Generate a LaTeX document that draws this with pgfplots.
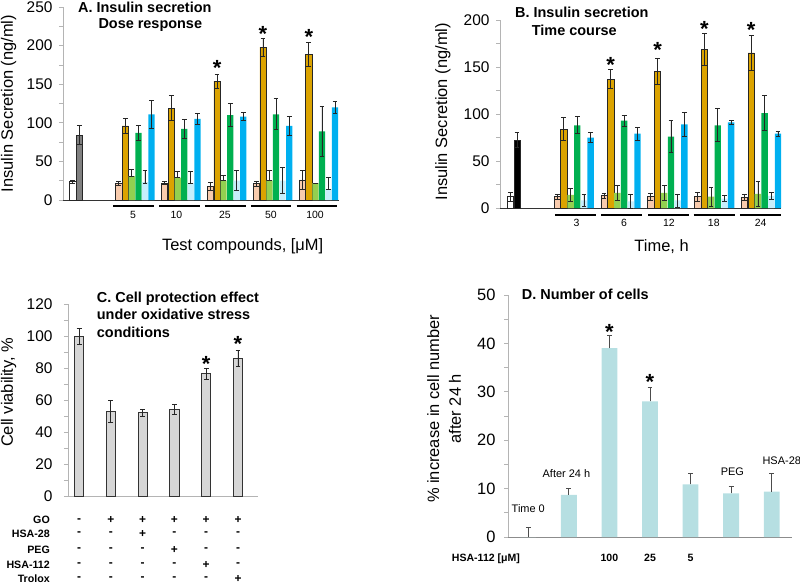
\documentclass[border=0pt]{standalone}
\usepackage{fontspec}
\setmainfont{Liberation Sans}
\usepackage{pgfplots}
\usepackage{pgfplotstable}
\pgfplotsset{compat=1.18}

\definecolor{cpeach}{RGB}{248,203,173}
\definecolor{cgold}{RGB}{219,163,0}
\definecolor{clgreen}{RGB}{146,208,80}
\definecolor{cgreen}{RGB}{0,176,80}
\definecolor{clblue}{RGB}{198,238,251}
\definecolor{cblue}{RGB}{0,176,240}
\definecolor{cgrey}{RGB}{128,128,128}
\definecolor{cCbar}{RGB}{214,214,214}
\definecolor{cDbar}{RGB}{182,223,226}
\definecolor{axgrey}{RGB}{180,180,180}

% ---------- Panel A data ----------
\pgfplotstableread{
x y ep em
0 24 2 2
}\Awhite
\pgfplotstableread{
x y ep em
1 84 12 12
}\Agrey
\pgfplotstableread{
x y ep em
7 21.6 2.5 2.5
14 22 2 2
21 18 5 5
28 21 3 3
35 26 12 12
}\Apeach
\pgfplotstableread{
x y ep em
8 96 9.5 9.5
15 119 16 16
22 154 9 9
29 198 11.5 11.5
36 189 15.5 15.5
}\Agold
\pgfplotstableread{
x y ep em
9 31 8 0
16 29 8 0
23 25 7 0
30 25 13 0
37 22 0 0
}\Algreen
\pgfplotstableread{
x y ep em
10 87 9.5 9.5
17 92 12 12
24 110 15 15
31 111 20 20
38 89 32 32
}\Agreen
\pgfplotstableread{
x y ep em
11 23 15 1
18 22 15 0
25 25 13 12
32 25 17 17
39 14 15 0
}\Alblue
\pgfplotstableread{
x y ep em
12 111 18.5 18.5
19 105 7 7
26 108 5.4 5.4
33 96 12.5 12.5
40 120 8 8
}\Ablue

% ---------- Panel B data ----------
\pgfplotstableread{
x y ep em
0 12 5 5
}\Bwhite
\pgfplotstableread{
x y ep em
1 72 8 8
}\Bblack
\pgfplotstableread{
x y ep em
7 12 3 3
14 13 3 3
21 12 4 4
28 12 5 5
35 11 3 3
}\Bpeach
\pgfplotstableread{
x y ep em
8 84 12 12
15 137 10 10
22 145 14 14
29 169 17 17
36 165 19 19
}\Bgold
\pgfplotstableread{
x y ep em
9 14 7 7
16 16 8 8
23 16 8 8
30 12 10 10
37 15 13 13
}\Blgreen
\pgfplotstableread{
x y ep em
10 88 9 9
17 93 6 6
24 76 17 17
31 88 17.5 17.5
38 101 18.5 18.5
}\Bgreen
\pgfplotstableread{
x y ep em
11 8 6 6
18 7 8 7
25 8 7 7
32 10 3 3
39 13 4 4
}\Blblue
\pgfplotstableread{
x y ep em
12 75 5 5
19 79 7 7
26 89 13 13
33 91 2 2
40 79 3 3
}\Bblue

% ---------- Panel C data ----------
\pgfplotstableread{
x y e
0 100 5
1 53 7
2 52 2
3 54 3
4 76.5 3.4
5 86 5
}\Cdata

% ---------- Panel D data ----------
\pgfplotstableread{
x y e
0 0 1.9
1 8.7 1.3
2 39 2.6
3 28 2.9
4 10.9 2.2
5 9 1.5
6 9.4 3.7
}\Ddata

\pgfplotsset{
  myax/.style={
    scale only axis, clip=false,
    axis x line*=bottom, axis y line*=left,
    axis line style={-},
    y axis line style={draw=axgrey, line width=0.8bp},
    x axis line style={draw=black!80, line width=1bp},
    xtick=\empty,
    tick align=outside,
    major tick length=4bp, minor tick length=4bp,
    tick style={draw=axgrey, line width=0.8bp},
    minor y tick num=1,
    tick label style={font=\fontsize{15.5}{18}\selectfont},
    yticklabel style={xshift=-3bp},
    /pgf/number format/assume math mode=true,
    label style={font=\fontsize{16.5}{20}\selectfont},
    ylabel style={anchor=center},
    xlabel style={anchor=center},
    ymin=0,
  },
  eb/.style={
    /pgfplots/error bars/y dir=both,
    /pgfplots/error bars/y explicit,
    /pgfplots/error bars/error bar style={line width=0.8bp, black!85},
    /pgfplots/error bars/error mark options={rotate=90, mark size=2.4bp, line width=0.8bp, black!85},
  },
  bA/.style={bar shift=0pt, fill=#1, draw=none, eb},
  bAo/.style={bar shift=0pt, fill=#1, draw=black!85, line width=0.6bp, eb},
}
\tikzset{
  star/.style={anchor=north, inner sep=0pt, font=\bfseries\fontsize{22}{22}\selectfont},
  glab/.style={font=\fontsize{10.5}{12}\selectfont},
  sgn/.style={font=\bfseries\fontsize{12}{12}\selectfont, inner sep=0pt},
}

\begin{document}
\begin{tikzpicture}
\useasboundingbox (0,0) rectangle (800bp,-584bp);

% ================= Panel A =================
\begin{axis}[myax, at={(63bp,-200bp)}, anchor=south west,
  width=276bp, height=193bp,
  xmin=-1.5, xmax=40.6, ymax=250, ytick={0,50,...,250},
  ybar, bar width=0.95,
  ylabel={Insulin Secretion (ng/ml)},
  ylabel style={at={(axis description cs:-0.197,0.5)}},
  xlabel={Test compounds, [μM]},
  xlabel style={at={(axis description cs:0.651,-0.242)}},
]
\addplot[bAo=white] table[x=x,y=y,y error plus=ep,y error minus=em]{\Awhite};
\addplot[bAo=cgrey] table[x=x,y=y,y error plus=ep,y error minus=em]{\Agrey};
\addplot[bAo=cpeach] table[x=x,y=y,y error plus=ep,y error minus=em]{\Apeach};
\addplot[bAo=cgold] table[x=x,y=y,y error plus=ep,y error minus=em]{\Agold};
\addplot[bA=clgreen] table[x=x,y=y,y error plus=ep,y error minus=em]{\Algreen};
\addplot[bA=cgreen] table[x=x,y=y,y error plus=ep,y error minus=em]{\Agreen};
\addplot[bA=clblue] table[x=x,y=y,y error plus=ep,y error minus=em]{\Alblue};
\addplot[bA=cblue] table[x=x,y=y,y error plus=ep,y error minus=em]{\Ablue};
\draw[line width=2.4bp] (axis cs:6.15,-7.8) -- (axis cs:12.35,-7.8);
\draw[line width=2.4bp] (axis cs:13.15,-7.8) -- (axis cs:19.35,-7.8);
\draw[line width=2.4bp] (axis cs:20.15,-7.8) -- (axis cs:26.35,-7.8);
\draw[line width=2.4bp] (axis cs:27.15,-7.8) -- (axis cs:33.35,-7.8);
\draw[line width=2.4bp] (axis cs:34.15,-7.8) -- (axis cs:40.35,-7.8);
\node[glab] at (axis cs:9.2,-19.4) {5};
\node[glab] at (axis cs:15.8,-19.4) {10};
\node[glab] at (axis cs:23.2,-19.4) {25};
\node[glab] at (axis cs:30.2,-19.4) {50};
\node[glab] at (axis cs:36.95,-19.4) {100};
\node[star] at (axis cs:22,181) {*};
\node[star] at (axis cs:29,225) {*};
\node[star] at (axis cs:36,221) {*};
\end{axis}

% ================= Panel B =================
\begin{axis}[myax, at={(500bp,-208bp)}, anchor=south west,
  width=281bp, height=188bp,
  xmin=-1.55, xmax=40.45, ymax=200, ytick={0,50,...,200},
  ybar, bar width=0.95,
  ylabel={Insulin Secretion (ng/ml)},
  ylabel style={at={(axis description cs:-0.203,0.512)}},
  xlabel={Time, h},
  xlabel style={at={(axis description cs:0.575,-0.206)}},
]
\addplot[bAo=white] table[x=x,y=y,y error plus=ep,y error minus=em]{\Bwhite};
\addplot[bAo=black] table[x=x,y=y,y error plus=ep,y error minus=em]{\Bblack};
\addplot[bAo=cpeach] table[x=x,y=y,y error plus=ep,y error minus=em]{\Bpeach};
\addplot[bAo=cgold] table[x=x,y=y,y error plus=ep,y error minus=em]{\Bgold};
\addplot[bA=clgreen] table[x=x,y=y,y error plus=ep,y error minus=em]{\Blgreen};
\addplot[bA=cgreen] table[x=x,y=y,y error plus=ep,y error minus=em]{\Bgreen};
\addplot[bA=clblue] table[x=x,y=y,y error plus=ep,y error minus=em]{\Blblue};
\addplot[bA=cblue] table[x=x,y=y,y error plus=ep,y error minus=em]{\Bblue};
\draw[line width=2.4bp] (axis cs:6.65,-7.4) -- (axis cs:12.85,-7.4);
\draw[line width=2.4bp] (axis cs:13.6,-7.4) -- (axis cs:19.7,-7.4);
\draw[line width=2.4bp] (axis cs:20.6,-7.4) -- (axis cs:26.7,-7.4);
\draw[line width=2.4bp] (axis cs:27.4,-7.4) -- (axis cs:33.6,-7.4);
\draw[line width=2.4bp] (axis cs:34.3,-7.4) -- (axis cs:40.4,-7.4);
\node[glab] at (axis cs:9.9,-16.3) {3};
\node[glab] at (axis cs:17,-16.3) {6};
\node[glab] at (axis cs:23.7,-16.3) {12};
\node[glab] at (axis cs:30.4,-16.3) {18};
\node[glab] at (axis cs:37.4,-16.3) {24};
\node[star] at (axis cs:15,160.4) {*};
\node[star] at (axis cs:22,176) {*};
\node[star] at (axis cs:29,199) {*};
\node[star] at (axis cs:36,198) {*};
\end{axis}

% ================= Panel C =================
\begin{axis}[myax, at={(68bp,-496bp)}, anchor=south west,
  width=190bp, height=192bp,
  xmin=-0.35, xmax=5.63, ymax=120, ytick={0,20,...,120},
  x axis line style={draw=axgrey, line width=0.8bp},
  yticklabel style={xshift=-5bp},
  ybar, bar width=0.29,
  ylabel={Cell viability, \%},
  ylabel style={at={(axis description cs:-0.313,0.54)}},
]
\addplot[bar shift=0pt, fill=cCbar, draw=black!80, line width=0.8bp, eb]
  table[x=x,y=y,y error=e]{\Cdata};
\node[star] at (axis cs:4,87.5) {*};
\node[star] at (axis cs:5,99.6) {*};
\end{axis}

% ================= Panel D =================
\begin{axis}[myax, at={(508bp,-537bp)}, anchor=south west,
  width=284bp, height=242bp,
  xmin=-0.5, xmax=6.5, ymax=50, ytick={0,10,...,50},
  x axis line style={draw=black!45, line width=0.9bp},
  tick label style={font=\fontsize{16.5}{19}\selectfont},
  yticklabel style={xshift=-2bp},
  ybar, bar width=0.39,
  ylabel={\% increase in cell number\\after 24 h},
  ylabel style={align=center, at={(axis description cs:-0.225,0.53)}, font=\fontsize{16.5}{22}\selectfont},
]
\addplot[bar shift=0pt, fill=cDbar, draw=none,
  /pgfplots/error bars/y dir=plus,
  /pgfplots/error bars/y explicit,
  /pgfplots/error bars/error bar style={line width=0.9bp, black!70},
  /pgfplots/error bars/error mark options={rotate=90, mark size=2.4bp, line width=0.9bp, black!70}]
  table[x=x,y=y,y error=e]{\Ddata};
\node[font=\fontsize{11}{13}\selectfont] at (axis cs:0,5.8) {Time 0};
\node[font=\fontsize{11}{13}\selectfont] at (axis cs:0.94,13.2) {After 24 h};
\node[font=\fontsize{11}{13}\selectfont] at (axis cs:5.03,13.4) {PEG};
\node[font=\fontsize{11}{13}\selectfont, anchor=west, inner sep=0pt] at (axis cs:5.77,15.7) {HSA-28};
\node[font=\bfseries\fontsize{10.6}{12}\selectfont] at (axis cs:2,-4.4) {100};
\node[font=\bfseries\fontsize{10.6}{12}\selectfont] at (axis cs:3,-4.4) {25};
\node[font=\bfseries\fontsize{10.6}{12}\selectfont] at (axis cs:4,-4.4) {5};
\node[star] at (axis cs:2,43.9) {*};
\node[star] at (axis cs:3,33.7) {*};
\end{axis}

% ================= Titles =================
\begin{scope}[every node/.style={anchor=base west, inner sep=0pt, font=\bfseries\fontsize{14.5}{17}\selectfont}]
\node at (78bp,-12bp) {A. Insulin secretion};
\node at (98.3bp,-28.7bp) {Dose response};
\node at (515bp,-17.7bp) {B. Insulin secretion};
\node at (531.7bp,-35.4bp) {Time course};
\node at (96.7bp,-302bp) {C. Cell protection effect};
\node at (96.7bp,-319.5bp) {under oxidative stress};
\node at (96.7bp,-337bp) {conditions};
\node at (521.7bp,-299.5bp) {D. Number of cells};
\end{scope}

\node[anchor=west, inner sep=0pt, font=\bfseries\fontsize{10.6}{12}\selectfont] at (451.7bp,-558.3bp) {HSA-112 [μM]};

% ================= Panel C condition table =================
\begin{scope}[every node/.style={inner sep=0pt}]
\node[anchor=east, font=\bfseries\fontsize{10.7}{12}\selectfont] at (50bp,-520.3bp) {GO};
\node[anchor=east, font=\bfseries\fontsize{10.7}{12}\selectfont] at (50bp,-534bp) {HSA-28};
\node[anchor=east, font=\bfseries\fontsize{10.7}{12}\selectfont] at (50bp,-550bp) {PEG};
\node[anchor=east, font=\bfseries\fontsize{10.7}{12}\selectfont] at (50bp,-565bp) {HSA-112};
\node[anchor=east, font=\bfseries\fontsize{10.7}{12}\selectfont] at (50bp,-578.5bp) {Trolox};
\foreach \s [count=\i from 0] in {-,+,+,+,+,+}
  \node[sgn] at ({79bp+31.8bp*\i},-520.3bp) {\s};
\foreach \s [count=\i from 0] in {-,-,+,-,-,-}
  \node[sgn] at ({79bp+31.8bp*\i},-534bp) {\s};
\foreach \s [count=\i from 0] in {-,-,-,+,-,-}
  \node[sgn] at ({79bp+31.8bp*\i},-550bp) {\s};
\foreach \s [count=\i from 0] in {-,-,-,-,+,-}
  \node[sgn] at ({79bp+31.8bp*\i},-565bp) {\s};
\foreach \s [count=\i from 0] in {-,-,-,-,-,+}
  \node[sgn] at ({79bp+31.8bp*\i},-578.5bp) {\s};
\end{scope}
\end{tikzpicture}
\end{document}
